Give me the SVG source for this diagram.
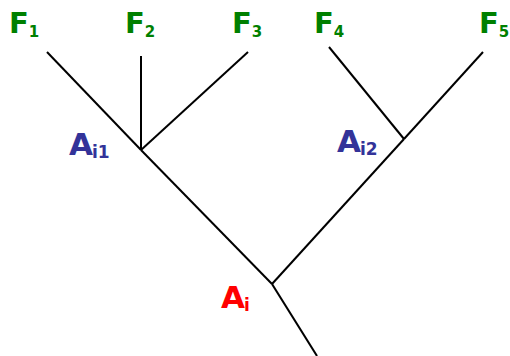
<svg xmlns="http://www.w3.org/2000/svg" width="510" height="356" viewBox="0 0 510 356">
<style>
.e{stroke:#000;stroke-width:2;fill:none;stroke-linecap:butt}
text{font-family:"DejaVu Sans",Verdana,sans-serif;font-weight:bold}
.f{fill:#008000;font-size:29px}
.fs{font-size:15px}
.a{fill:#333399;font-size:31px}
.r{fill:#ff0000;font-size:31px}
.as{font-size:17px}
</style>
<rect width="510" height="356" fill="#fff"/>
<g id="connectors">
<line class="e" x1="47" y1="52" x2="141" y2="150"/>
<line class="e" x1="141" y1="56" x2="141" y2="150"/>
<line class="e" x1="248" y1="52" x2="141" y2="150"/>
<line class="e" x1="141" y1="150" x2="272" y2="284"/>
<line class="e" x1="329" y1="47" x2="404" y2="139"/>
<line class="e" x1="483" y1="52" x2="404" y2="139"/>
<line class="e" x1="404" y1="139" x2="272" y2="284"/>
<line class="e" x1="272" y1="284" x2="317" y2="356"/>
</g>
<g id="F1"><text class="f" x="9" y="33">F<tspan class="fs" dy="4">1</tspan></text></g>
<g id="F2"><text class="f" x="125" y="33">F<tspan class="fs" dy="4">2</tspan></text></g>
<g id="F3"><text class="f" x="232" y="33">F<tspan class="fs" dy="4">3</tspan></text></g>
<g id="F4"><text class="f" x="314" y="33">F<tspan class="fs" dy="4">4</tspan></text></g>
<g id="F5"><text class="f" x="479" y="33">F<tspan class="fs" dy="4">5</tspan></text></g>
<g id="Ai1"><text class="a" x="69" y="155">A<tspan class="as" dy="3" dx="-1">i1</tspan></text></g>
<g id="Ai2"><text class="a" x="337" y="152">A<tspan class="as" dy="3" dx="-1">i2</tspan></text></g>
<g id="Ai"><text class="r" x="221" y="308">A<tspan class="as" dy="3" dx="-1">i</tspan></text></g>
</svg>
